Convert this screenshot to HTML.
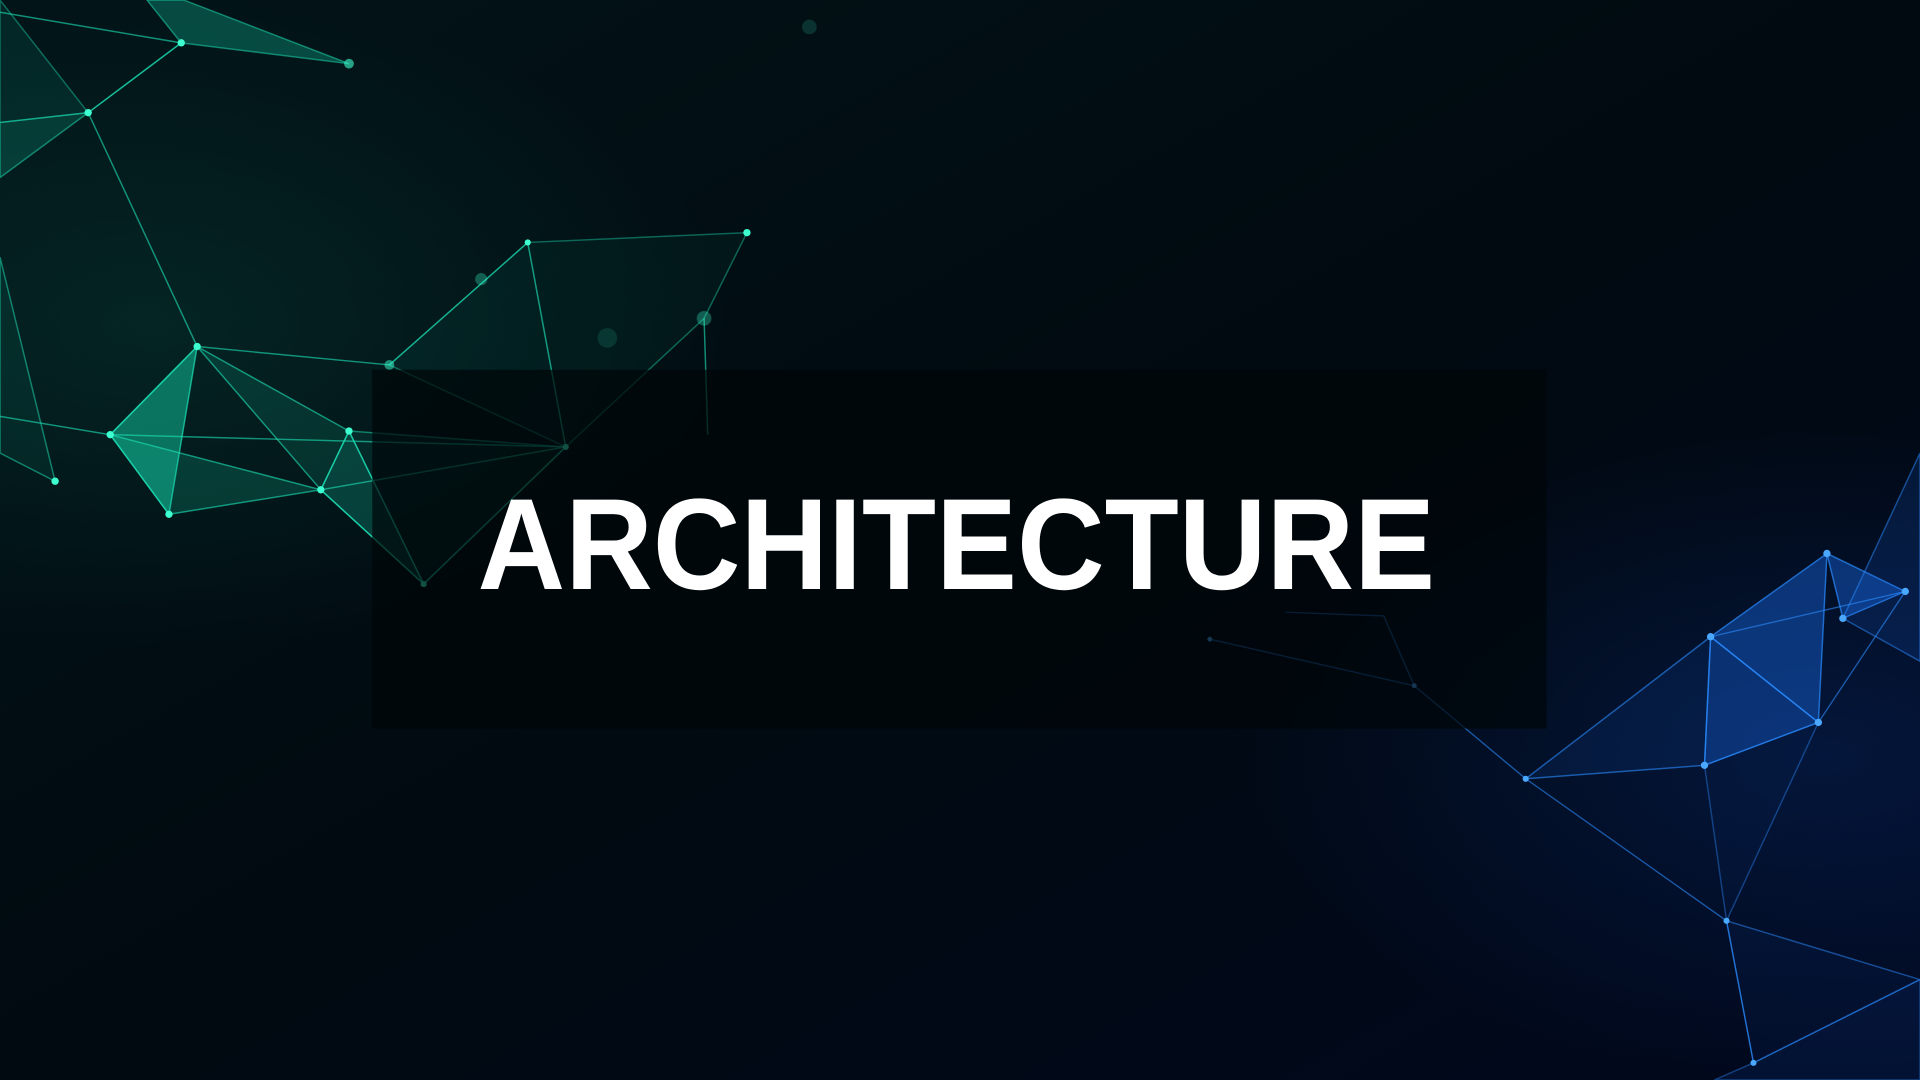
<!DOCTYPE html>
<html><head><meta charset="utf-8"><style>
html,body{margin:0;padding:0;width:1920px;height:1080px;overflow:hidden;background:#010a10}
svg{display:block}
</style></head><body>
<svg width="1920" height="1080" viewBox="0 0 1568 882" preserveAspectRatio="none" xmlns="http://www.w3.org/2000/svg">
<defs>
<linearGradient id="bg" x1="0" y1="0" x2="1" y2="1">
<stop offset="0" stop-color="#021418"/><stop offset="0.5" stop-color="#010a10"/><stop offset="1" stop-color="#01081e"/>
</linearGradient>
<radialGradient id="gg" cx="0.08" cy="0.3" r="0.3"><stop offset="0" stop-color="#0a4a40" stop-opacity="0.35"/><stop offset="1" stop-color="#0a4a40" stop-opacity="0"/></radialGradient>
<radialGradient id="bgl" cx="0.95" cy="0.7" r="0.3"><stop offset="0" stop-color="#0a2f7a" stop-opacity="0.35"/><stop offset="1" stop-color="#0a2f7a" stop-opacity="0"/></radialGradient>
</defs>
<rect width="1568" height="882" fill="url(#bg)"/>
<rect width="1568" height="882" fill="url(#gg)"/>
<rect width="1568" height="882" fill="url(#bgl)"/>
<g fill="#12c9a2" stroke="#1de3b8" stroke-width="1.2">
<polygon points="90,355 161,283 138,420" fill-opacity="0.5" stroke-opacity="0.7"/>
<polygon points="161,283 285,352 262,400" fill-opacity="0.15" stroke-opacity="0.6"/>
<polygon points="90,355 262,400 138,420" fill-opacity="0.2" stroke-opacity="0.6"/>
<polygon points="262,400 285,352 346,477" fill-opacity="0.25" stroke-opacity="0.7"/>
<polygon points="285,352 462,365 346,477" fill-opacity="0.1" stroke-opacity="0.5"/>
<polygon points="431,198 610,190 575,260 462,365" fill-opacity="0.05" stroke-opacity="0.4"/>
<polygon points="318,298 431,198 462,365" fill-opacity="0.06" stroke-opacity="0.4"/>
<polygon points="0,100 72,92 0,145" fill-opacity="0.2" stroke-opacity="0.5"/>
<polygon points="72,92 148,35 120,0 150,0 285,52 148,35" fill-opacity="0.3" stroke-opacity="0.5"/>
<polygon points="0,210 45,393 0,370" fill-opacity="0.08" stroke-opacity="0.5"/>
<polygon points="0,0 72,92 0,100" fill-opacity="0.1" stroke-opacity="0.4"/>
</g>
<g stroke="#1de3b8" stroke-width="1.2" fill="none" stroke-opacity="0.6">
<polyline points="72,92 161,283 90,355 0,340"/>
<polyline points="161,283 318,298 431,198"/>
<polyline points="90,355 462,365 262,400 346,477 462,365"/>
<polyline points="0,10 148,35 72,92"/>
<polyline points="575,260 578,355"/>
</g>
<g fill="#3dffd0">
<circle cx="161" cy="283" r="3"/><circle cx="90" cy="355" r="3"/><circle cx="138" cy="420" r="3"/>
<circle cx="262" cy="400" r="3"/><circle cx="285" cy="352" r="3"/><circle cx="346" cy="477" r="2.5"/>
<circle cx="462" cy="365" r="2.5"/><circle cx="431" cy="198" r="2.5"/><circle cx="610" cy="190" r="3"/>
<circle cx="72" cy="92" r="3"/><circle cx="148" cy="35" r="3"/><circle cx="45" cy="393" r="3"/>
<circle cx="285" cy="52" r="4" opacity="0.6"/><circle cx="318" cy="298" r="4" opacity="0.5"/>
<circle cx="393" cy="228" r="5" opacity="0.3"/><circle cx="496" cy="276" r="8" opacity="0.12"/>
<circle cx="575" cy="260" r="6" opacity="0.3"/><circle cx="661" cy="22" r="6" opacity="0.15"/>
</g>
<g fill="#1a6df0" stroke="#2a8cff" stroke-width="1.2">
<polygon points="1397,520 1492,452 1485,590" fill-opacity="0.4" stroke-opacity="0.7"/>
<polygon points="1397,520 1485,590 1392,625" fill-opacity="0.35" stroke-opacity="0.7"/>
<polygon points="1492,452 1556,483 1505,505" fill-opacity="0.4" stroke-opacity="0.7"/>
<polygon points="1505,505 1568,370 1568,540" fill-opacity="0.15" stroke-opacity="0.5"/>
<polygon points="1246,636 1397,520 1392,625" fill-opacity="0.1" stroke-opacity="0.6"/>
<polygon points="1392,625 1410,752 1485,590" fill-opacity="0.04" stroke-opacity="0.4"/>
<polygon points="1410,752 1568,800 1432,868" fill-opacity="0.06" stroke-opacity="0.5"/>
<polygon points="1432,868 1568,800 1568,882 1400,882" fill-opacity="0.1" stroke-opacity="0.4"/>
</g>
<g stroke="#2a8cff" stroke-width="1.1" fill="none" stroke-opacity="0.6">
<polyline points="988,522 1155,560 1246,636 1410,752 1432,868"/>
<polyline points="1050,500 1130,503 1155,560"/>
<polyline points="1397,520 1556,483 1485,590"/>
</g>
<g fill="#4aa8ff">
<circle cx="1397" cy="520" r="3"/><circle cx="1492" cy="452" r="3"/><circle cx="1485" cy="590" r="3"/>
<circle cx="1392" cy="625" r="3"/><circle cx="1556" cy="483" r="3"/><circle cx="1505" cy="505" r="3"/>
<circle cx="1246" cy="636" r="2.5"/><circle cx="1410" cy="752" r="2.5"/><circle cx="1432" cy="868" r="2.5"/>
<circle cx="1155" cy="560" r="2"/><circle cx="988" cy="522" r="2"/>
</g>
<rect x="304" y="302" width="959" height="293" fill="#000609" fill-opacity="0.7"/>
<text x="390" y="481" textLength="782" lengthAdjust="spacingAndGlyphs" font-family="Liberation Sans, Arial, sans-serif" font-weight="700" font-size="106" fill="#ffffff">ARCHITECTURE</text>
</svg>
</body></html>
